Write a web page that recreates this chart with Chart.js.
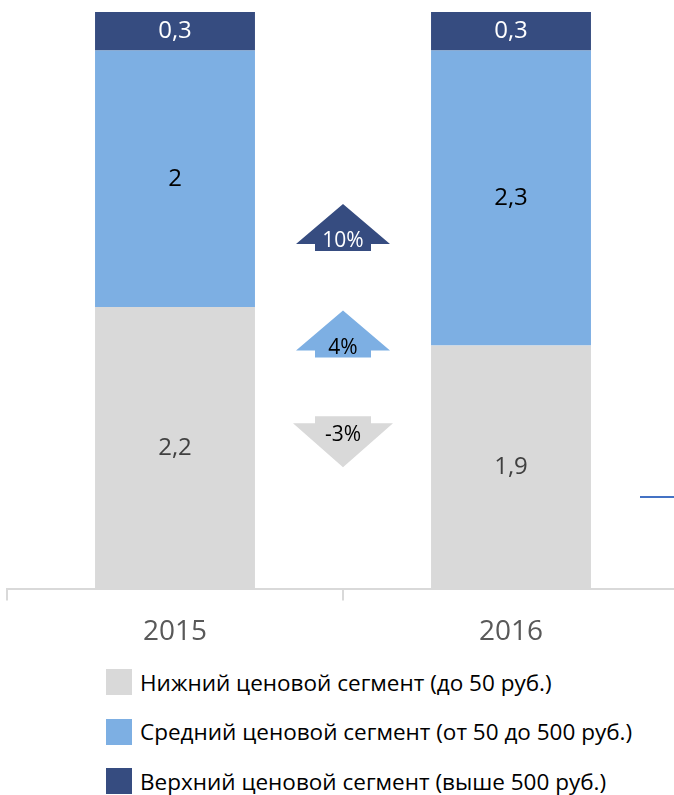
<!DOCTYPE html>
<html>
<head>
<meta charset="utf-8">
<script src="https://cdn.jsdelivr.net/npm/chart.js@4"></script>
<style>
    html, body { margin: 0; padding: 0; background: #fff; overflow: hidden; width: 674px; height: 795px; }
    #wrap { position: relative; width: 674px; height: 795px; overflow: hidden; }
    #chart { position: absolute; left: 0; top: 0; }
    #legend { position: absolute; left: 106px; top: 669px; font-family: "Open Sans", sans-serif; font-size: 22.5px; color: #000; }
    .item { display: flex; align-items: center; height: 26px; margin-bottom: 23.5px; white-space: nowrap; }
    .box { width: 26px; height: 26px; margin-right: 8px; flex: none; }
</style>
</head>
<body>
<div id="wrap">
    <canvas id="chart" width="680" height="664"></canvas>
    <div id="legend"></div>
</div>
<script>
// Data
const years = ['2015', '2016'];
const lowSegment = [2.2, 1.9];
const midSegment = [2, 2.3];
const highSegment = [0.3, 0.3];
const seriesNames = [
    'Нижний ценовой сегмент (до 50 руб.)',
    'Средний ценовой сегмент (от 50 до 500 руб.)',
    'Верхний ценовой сегмент (выше 500 руб.)'
];
const changes = [-3, 4, 10]; // % change 2016 vs 2015, low / mid / high

const colors = ['#D9D9D9', '#7DAFE3', '#364C80'];
const labelColors = ['#404040', '#000000', '#ffffff'];

const fmt = v => String(v).replace('.', ',');

// Values inside segments
const segmentLabels = {
    id: 'segmentLabels',
    afterDatasetsDraw(chart) {
        const ctx = chart.ctx;
        ctx.save();
        ctx.font = '24px "Open Sans"';
        ctx.textAlign = 'center';
        ctx.textBaseline = 'middle';
        chart.data.datasets.forEach((ds, i) => {
            chart.getDatasetMeta(i).data.forEach((bar, j) => {
                ctx.fillStyle = labelColors[i];
                ctx.fillText(fmt(ds.data[j]), bar.x, (bar.y + bar.base) / 2);
            });
        });
        ctx.restore();
    }
};

// Change arrows between the bars
const changeArrows = {
    id: 'changeArrows',
    afterDatasetsDraw(chart, args, opts) {
        const ctx = chart.ctx;
        const x = chart.scales.x;
        const y = chart.scales.y;
        const cx = (x.getPixelForValue(0) + x.getPixelForValue(1)) / 2;
        ctx.save();
        changes.forEach((c, i) => {
            const cy = y.getPixelForValue(opts.levels[i]);
            ctx.fillStyle = colors[i];
            ctx.beginPath();
            let textY;
            if (c >= 0) {
                const top = cy - 23.5;
                ctx.moveTo(cx, top);
                ctx.lineTo(cx + 47, top + 40);
                ctx.lineTo(cx + 28, top + 40);
                ctx.lineTo(cx + 28, top + 47);
                ctx.lineTo(cx - 28, top + 47);
                ctx.lineTo(cx - 28, top + 40);
                ctx.lineTo(cx - 47, top + 40);
                textY = top + 37;
            } else {
                const top = cy - 25.5;
                ctx.moveTo(cx - 28, top);
                ctx.lineTo(cx + 28, top);
                ctx.lineTo(cx + 28, top + 7);
                ctx.lineTo(cx + 50, top + 7);
                ctx.lineTo(cx, top + 51);
                ctx.lineTo(cx - 50, top + 7);
                ctx.lineTo(cx - 28, top + 7);
                textY = top + 19;
            }
            ctx.closePath();
            ctx.fill();
            ctx.font = '21px "Open Sans"';
            ctx.textAlign = 'center';
            ctx.textBaseline = 'middle';
            ctx.fillStyle = labelColors[i] === '#404040' ? '#000' : labelColors[i];
            ctx.fillText(c + '%', cx, textY);
        });
        // stray line at the right edge
        const ly = y.getPixelForValue(opts.strayLine);
        ctx.strokeStyle = '#4472C4';
        ctx.lineWidth = 2;
        ctx.beginPath();
        ctx.moveTo(640, ly);
        ctx.lineTo(680, ly);
        ctx.stroke();
        ctx.restore();
    }
};

const ctx = document.getElementById('chart').getContext('2d');
const chart = new Chart(ctx, {
    type: 'bar',
    data: {
        labels: years,
        datasets: [lowSegment, midSegment, highSegment].map((d, i) => ({
            label: seriesNames[i],
            data: d,
            backgroundColor: colors[i],
            borderWidth: 0,
            categoryPercentage: 1,
            barPercentage: 0.476
        }))
    },
    options: {
        responsive: false,
        animation: false,
        layout: { padding: { left: 7, right: 1, top: 12, bottom: 0 } },
        plugins: {
            legend: { display: false },
            tooltip: { enabled: false },
            changeArrows: { levels: [1.15, 1.99, 2.82], strayLine: 0.72 }
        },
        scales: {
            x: {
                stacked: true,
                grid: { drawOnChartArea: false, color: '#D9D9D9', lineWidth: 2, tickLength: 11 },
                border: { color: '#D9D9D9', width: 2 },
                ticks: { color: '#595959', font: { family: 'Open Sans', size: 28 }, padding: 15 }
            },
            y: {
                stacked: true,
                display: false,
                min: 0,
                max: 4.5
            }
        }
    },
    plugins: [segmentLabels, changeArrows]
});

// Legend
const legend = document.getElementById('legend');
seriesNames.forEach((name, i) => {
    const row = document.createElement('div');
    row.className = 'item';
    row.innerHTML = `<span class="box" style="background:${colors[i]}"></span><span>${name}</span>`;
    legend.appendChild(row);
});
</script>
</body>
</html>
